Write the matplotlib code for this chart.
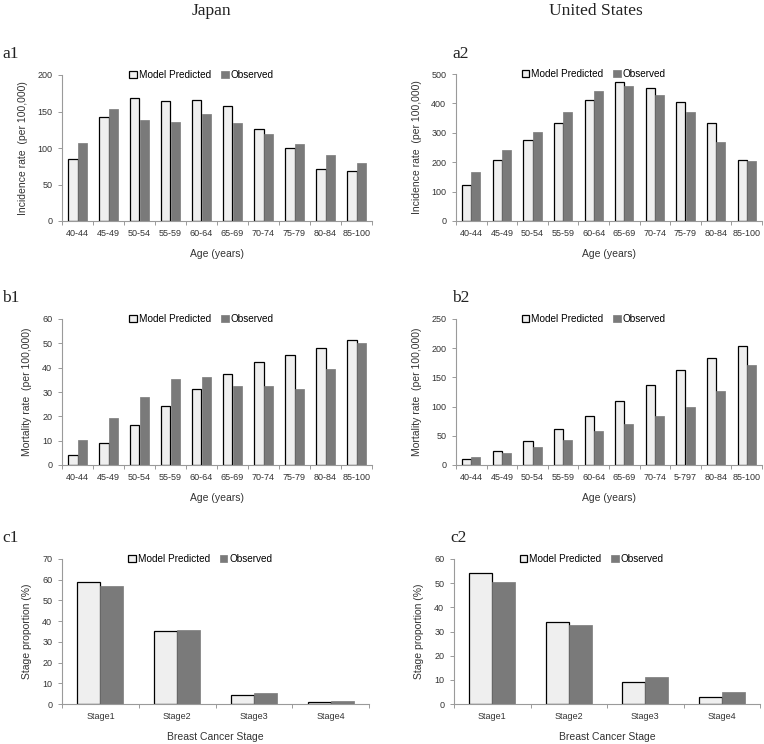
import matplotlib
matplotlib.use("Agg")
from matplotlib import pyplot as plt
import numpy as np

plt.rcParams['font.family'] = ['Liberation Sans', 'DejaVu Sans']

age_groups = ["40-44", "45-49", "50-54", "55-59", "60-64", "65-69", "70-74", "75-79", "80-84", "85-100"]
age_groups_b2 = ["40-44", "45-49", "50-54", "55-59", "60-64", "65-69", "70-74", "5-797", "80-84", "85-100"]
stages = ["Stage1", "Stage2", "Stage3", "Stage4"]

# Japan incidence
jp_inc_model = [85, 143, 168.5, 164, 166, 157, 126.5, 99.5, 71, 69]
jp_inc_obs = [107, 154, 139, 135.5, 146, 134, 119.5, 106, 90, 80]
# US incidence
us_inc_model = [124, 206, 275, 332, 410, 472, 451, 406, 335, 206]
us_inc_obs = [165, 240, 302, 370, 441, 460, 428, 370, 269, 205]
# Japan mortality
jp_mort_model = [4.1, 9.1, 16.6, 24.4, 31.2, 37.3, 42.2, 45.4, 47.9, 51.2]
jp_mort_obs = [10.4, 19.4, 28.0, 35.3, 36.0, 32.4, 32.4, 31.3, 39.3, 50.1]
# US mortality
us_mort_model = [10.8, 23.4, 40.5, 61, 84, 110, 137, 163, 184, 203]
us_mort_obs = [13, 21, 31.4, 43.4, 58, 71, 84, 99, 127, 172]
# stage proportions
jp_stage_model = [59.1, 35.1, 4.5, 1.1]
jp_stage_obs = [57.2, 35.7, 5.3, 1.4]
us_stage_model = [54.1, 33.9, 8.9, 3.0]
us_stage_obs = [50.5, 32.8, 11.1, 4.8]

W, H = 764, 744
fig = plt.figure(figsize=(W / 100, H / 100), dpi=100)

light = "#efefef"
dark = "#7a7a7a"
spine_col = "#9a9a9a"
text_col = "#333333"


def px_axes(left, right, top, bottom):
    return fig.add_axes([left / W, 1 - bottom / H, (right - left) / W, (bottom - top) / H])


def panel(ax, cats, model, obs, ymax, ystep, ylabel, xlabel, tag, tag_x, tag_y):
    x = np.arange(len(cats))
    w = 0.3
    ax.bar(x - w / 2, model, w, color=light, edgecolor="black", linewidth=0.9, label="Model Predicted")
    ax.bar(x + w / 2, obs, w, color=dark, edgecolor=dark, linewidth=0.5, label="Observed")
    ax.set_xlim(-0.5, len(cats) - 0.5)
    ax.set_ylim(0, ymax)
    ax.set_yticks(np.arange(0, ymax + 0.1, ystep))
    ax.set_xticks(x)
    ax.set_xticklabels(cats)
    ax.set_xticks(np.arange(-0.5, len(cats)), minor=True)
    ax.tick_params(axis="x", which="major", length=0, pad=6, labelsize=6.5, labelcolor=text_col)
    ax.tick_params(axis="x", which="minor", length=3, width=0.7, color=spine_col, direction="out")
    ax.tick_params(axis="y", length=3, width=0.7, color=spine_col, pad=4, labelsize=6.5, labelcolor=text_col)
    for s in ["top", "right"]:
        ax.spines[s].set_visible(False)
    for s in ["left", "bottom"]:
        ax.spines[s].set_color(spine_col)
        ax.spines[s].set_linewidth(0.8)
    ax.set_ylabel(ylabel, fontsize=7.5, color=text_col, labelpad=7)
    ax.set_xlabel(xlabel, fontsize=7.5, color=text_col, labelpad=7.5)
    ax.legend(loc="center", bbox_to_anchor=(0.45, 1.0), ncol=2, frameon=False, fontsize=7.2,
              handlelength=0.75, handleheight=0.75, handletextpad=0.2, columnspacing=1.0,
              borderaxespad=0)
    fig.text(tag_x / W, 1 - tag_y / H, tag, family="Liberation Serif", fontsize=12.5,
             ha="left", va="baseline", color="#222222")


ax = px_axes(62, 372, 75, 221)
panel(ax, age_groups, jp_inc_model, jp_inc_obs, 200, 50, "Incidence rate  (per 100,000)", "Age (years)", "a1", 2, 58)
ax = px_axes(456, 762, 74, 221)
panel(ax, age_groups, us_inc_model, us_inc_obs, 500, 100, "Incidence rate  (per 100,000)", "Age (years)", "a2", 452, 58)
ax = px_axes(62, 372, 319, 465)
panel(ax, age_groups, jp_mort_model, jp_mort_obs, 60, 10, "Mortality rate  (per 100,000)", "Age (years)", "b1", 2, 302)
ax = px_axes(456, 762, 319, 465)
panel(ax, age_groups_b2, us_mort_model, us_mort_obs, 250, 50, "Mortality rate  (per 100,000)", "Age (years)", "b2", 452, 302)
ax = px_axes(62, 369, 559, 704)
panel(ax, stages, jp_stage_model, jp_stage_obs, 70, 10, "Stage proportion (%)", "Breast Cancer Stage", "c1", 2, 542)
ax = px_axes(454, 760, 559, 704)
panel(ax, stages, us_stage_model, us_stage_obs, 60, 10, "Stage proportion (%)", "Breast Cancer Stage", "c2", 450, 542)

fig.text(211 / W, 1 - 15 / H, "Japan", family="Liberation Serif", fontsize=12.5, ha="center", va="baseline", color="#222222")
fig.text(596 / W, 1 - 15 / H, "United States", family="Liberation Serif", fontsize=12.5, ha="center", va="baseline", color="#222222")

fig.savefig("out.png", dpi=100)
